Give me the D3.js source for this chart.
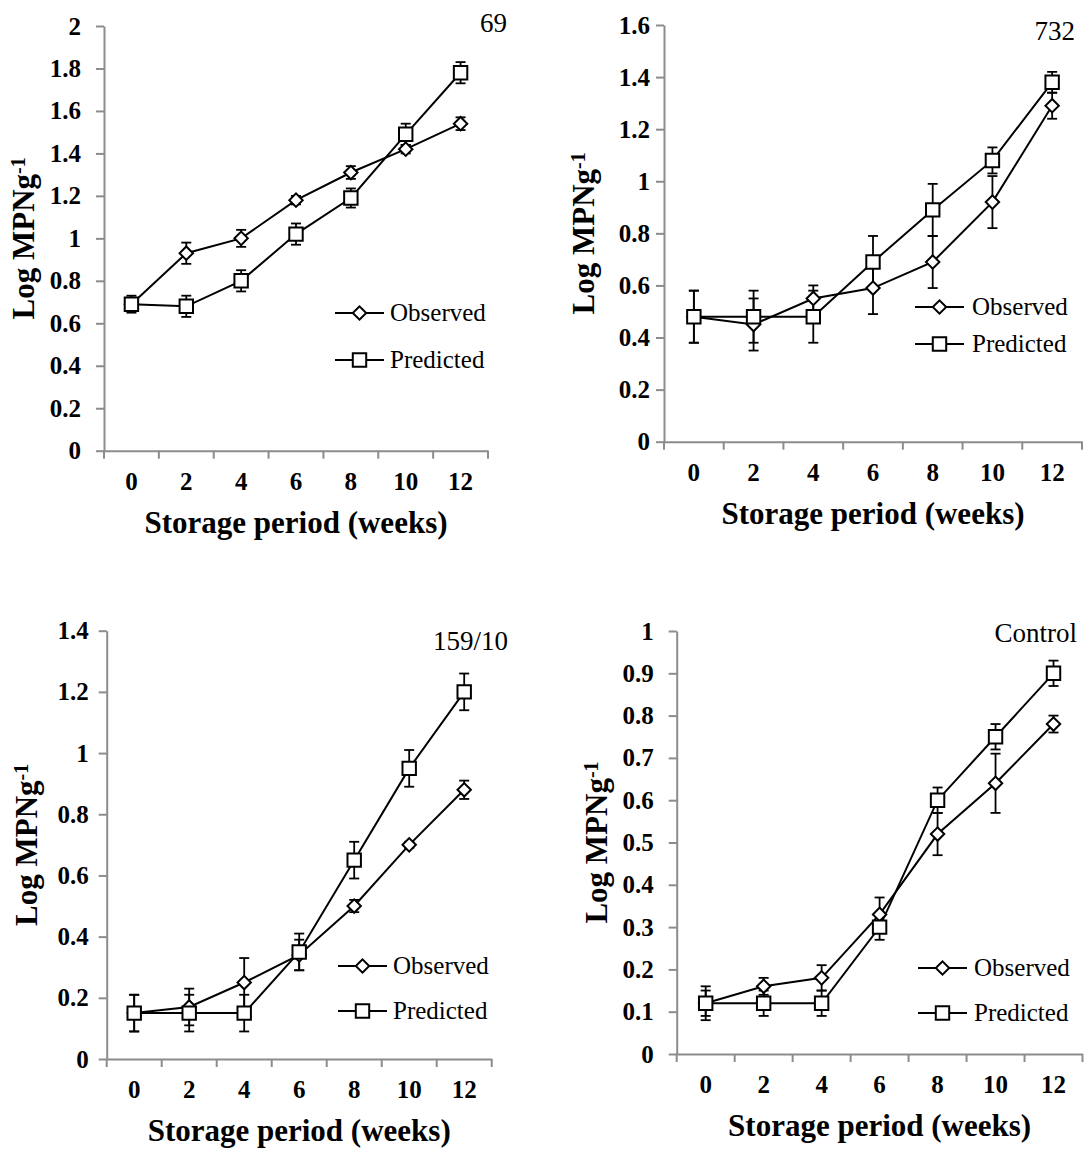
<!DOCTYPE html>
<html>
<head>
<meta charset="utf-8">
<script src="https://cdn.jsdelivr.net/npm/d3@7"></script>
<style>
  body { margin: 0; background: #fff; }
  svg { display: block; font-family: "Liberation Serif", "Times New Roman", serif; }
</style>
</head>
<body>
<div id="chart"></div>
<script>
// x categories (weeks)
const weeks = [0, 2, 4, 6, 8, 10, 12];

// isolate 69
const obs69 = [0.69, 0.93, 1.00, 1.18, 1.31, 1.42, 1.54];
const obs69Err = [0.03, 0.05, 0.04, 0.02, 0.03, 0.02, 0.03];
const pred69 = [0.69, 0.68, 0.80, 1.02, 1.19, 1.49, 1.78];
const pred69Err = [0.04, 0.05, 0.05, 0.05, 0.045, 0.05, 0.05];
const ticks69 = [0, 0.2, 0.4, 0.6, 0.8, 1, 1.2, 1.4, 1.6, 1.8, 2];

// isolate 732
const obs732 = [0.48, 0.45, 0.55, 0.59, 0.69, 0.92, 1.29];
const obs732Err = [0.10, 0.10, 0.05, 0.10, 0.10, 0.10, 0.05];
const pred732 = [0.48, 0.48, 0.48, 0.69, 0.89, 1.08, 1.38];
const pred732Err = [0.10, 0.10, 0.10, 0.10, 0.10, 0.05, 0.04];
const ticks732 = [0, 0.2, 0.4, 0.6, 0.8, 1, 1.2, 1.4, 1.6];

// isolate 159/10
const obs159 = [0.15, 0.17, 0.25, 0.34, 0.50, 0.70, 0.88];
const obs159Err = [0.06, 0.06, 0.08, 0.05, 0.02, 0.01, 0.03];
const pred159 = [0.15, 0.15, 0.15, 0.35, 0.65, 0.95, 1.20];
const pred159Err = [0.06, 0.06, 0.06, 0.06, 0.06, 0.06, 0.06];
const ticks159 = [0, 0.2, 0.4, 0.6, 0.8, 1, 1.2, 1.4];

// control
const obsCtrl = [0.12, 0.16, 0.18, 0.33, 0.52, 0.64, 0.78];
const obsCtrlErr = [0.03, 0.02, 0.03, 0.04, 0.05, 0.07, 0.02];
const predCtrl = [0.12, 0.12, 0.12, 0.30, 0.60, 0.75, 0.90];
const predCtrlErr = [0.04, 0.03, 0.03, 0.03, 0.03, 0.03, 0.03];
const ticksCtrl = [0, 0.1, 0.2, 0.3, 0.4, 0.5, 0.6, 0.7, 0.8, 0.9, 1];

const seriesNames = ["Observed", "Predicted"];

// layout of the four panels
const panels = [
  { title: "69", obs: obs69, obsErr: obs69Err, pred: pred69, predErr: pred69Err, ticks: ticks69,
    left: 104, right: 488, top: 26, bottom: 450.7, pad: 15,
    titleX: 507, titleY: 32, legX: 335, legText: 390, legY: [313, 360] },
  { title: "732", obs: obs732, obsErr: obs732Err, pred: pred732, predErr: pred732Err, ticks: ticks732,
    left: 664, right: 1082, top: 25, bottom: 441.7, pad: 6,
    titleX: 1075, titleY: 40, legX: 915, legText: 972, legY: [307, 344] },
  { title: "159/10", obs: obs159, obsErr: obs159Err, pred: pred159, predErr: pred159Err, ticks: ticks159,
    left: 106.7, right: 491.7, top: 630.7, bottom: 1059, pad: 10,
    titleX: 508, titleY: 650, legX: 338, legText: 393, legY: [966, 1011] },
  { title: "Control", obs: obsCtrl, obsErr: obsCtrlErr, pred: predCtrl, predErr: predCtrlErr, ticks: ticksCtrl,
    left: 676.7, right: 1082.5, top: 631, bottom: 1054, pad: 15,
    titleX: 1077, titleY: 642, legX: 918, legText: 974, legY: [968, 1013] }
];

const axisColor = "#8c8c8c";
const fmt = d3.format("~g");

const svg = d3.select("#chart")
  .append("svg")
  .attr("width", 1084)
  .attr("height", 1149);

const square = d3.symbol().type(d3.symbolSquare).size(180)();
const diamond = d3.symbol().type(d3.symbolSquare).size(90)();

function drawMarker(g, shape, cx, cy) {
  g.append("path")
    .attr("d", shape === "sq" ? square : diamond)
    .attr("transform", `translate(${cx},${cy})` + (shape === "sq" ? "" : " rotate(45)"))
    .attr("fill", "#fff")
    .attr("stroke", "#000")
    .attr("stroke-width", 2);
}

panels.forEach(p => {
  const g = svg.append("g");

  const x = d3.scaleBand()
    .domain(weeks)
    .range([p.left, p.right]);

  const y = d3.scaleLinear()
    .domain([0, d3.max(p.ticks)])
    .range([p.bottom, p.top]);

  // Y axis
  const yAxis = g.append("g")
    .attr("transform", `translate(${p.left},0)`)
    .call(d3.axisLeft(y).tickValues(p.ticks).tickFormat(fmt).tickSize(8).tickSizeOuter(0).tickPadding(p.pad));
  yAxis.select(".domain").attr("stroke", axisColor).attr("stroke-width", 2);
  yAxis.selectAll(".tick line").attr("stroke", axisColor).attr("stroke-width", 2);
  yAxis.selectAll("text")
    .attr("fill", "#000")
    .style("font-size", "25px")
    .style("font-weight", "bold")
    .style("font-family", "Liberation Serif");

  // X axis labels at category centres
  const xAxis = g.append("g")
    .attr("transform", `translate(0,${p.bottom})`)
    .call(d3.axisBottom(x).tickSize(0).tickSizeOuter(0).tickPadding(21.5));
  xAxis.select(".domain").attr("stroke", axisColor).attr("stroke-width", 2);
  xAxis.selectAll("text")
    .attr("fill", "#000")
    .style("font-size", "25px")
    .style("font-weight", "bold")
    .style("font-family", "Liberation Serif");

  // X tick marks between categories
  const edges = weeks.map(w => x(w)).concat([x.range()[1]]);
  g.append("g").selectAll("line")
    .data(edges)
    .join("line")
    .attr("x1", d => d).attr("x2", d => d)
    .attr("y1", p.bottom).attr("y2", p.bottom + 8)
    .attr("stroke", axisColor)
    .attr("stroke-width", 2);

  // axis titles
  g.append("text")
    .attr("x", (p.left + p.right) / 2)
    .attr("y", p.bottom + 82)
    .attr("text-anchor", "middle")
    .style("font-size", "31px")
    .style("font-weight", "bold")
    .text("Storage period (weeks)");

  const yt = g.append("text")
    .attr("transform", `translate(${p.left - 70},${(p.top + p.bottom) / 2}) rotate(-90)`)
    .attr("text-anchor", "middle")
    .style("font-size", "31px")
    .style("font-weight", "bold");
  yt.append("tspan").text("Log MPNg");
  yt.append("tspan").attr("dy", "-0.45em").style("font-size", "20px").text("-1");

  // panel label
  g.append("text")
    .attr("x", p.titleX)
    .attr("y", p.titleY)
    .attr("text-anchor", "end")
    .style("font-size", "27px")
    .text(p.title);

  const cx = d => x(d) + x.bandwidth() / 2;
  const line = d3.line().x((d, i) => cx(weeks[i])).y(d => y(d));

  const series = [
    { vals: p.obs, err: p.obsErr, shape: "di" },
    { vals: p.pred, err: p.predErr, shape: "sq" }
  ];

  series.forEach(s => {
    // error bars
    s.vals.forEach((v, i) => {
      const xc = cx(weeks[i]);
      const y0 = y(v - s.err[i]), y1 = y(v + s.err[i]);
      g.append("line").attr("x1", xc).attr("x2", xc).attr("y1", y0).attr("y2", y1)
        .attr("stroke", "#000").attr("stroke-width", 1.8);
      [y0, y1].forEach(yy => g.append("line")
        .attr("x1", xc - 5).attr("x2", xc + 5).attr("y1", yy).attr("y2", yy)
        .attr("stroke", "#000").attr("stroke-width", 1.8));
    });
    g.append("path")
      .datum(s.vals)
      .attr("d", line)
      .attr("fill", "none")
      .attr("stroke", "#000")
      .attr("stroke-width", 2);
  });

  series.forEach(s => {
    s.vals.forEach((v, i) => drawMarker(g, s.shape, cx(weeks[i]), y(v)));
  });

  // legend
  seriesNames.forEach((name, i) => {
    const ly = p.legY[i];
    g.append("line")
      .attr("x1", p.legX).attr("x2", p.legX + 49)
      .attr("y1", ly).attr("y2", ly)
      .attr("stroke", "#000").attr("stroke-width", 2);
    drawMarker(g, i === 0 ? "di" : "sq", p.legX + 24.5, ly);
    g.append("text")
      .attr("x", p.legText)
      .attr("y", ly)
      .attr("dy", "0.32em")
      .style("font-size", "25px")
      .text(name);
  });
});
</script>
</body>
</html>
